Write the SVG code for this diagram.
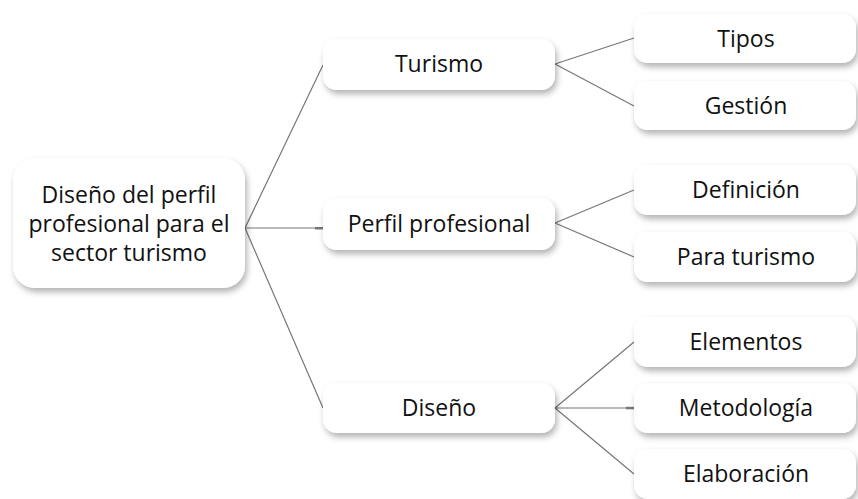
<svg xmlns="http://www.w3.org/2000/svg" width="858" height="499" viewBox="0 0 858 499">
<defs>
<filter id="sh" x="-20%" y="-40%" width="140%" height="180%">
<feDropShadow dx="2" dy="4" stdDeviation="3" flood-color="#000" flood-opacity="0.3"/>
</filter>
<style>
.box{fill:#fff;filter:url(#sh)}
.t{font-family:"Open Sans","Noto Sans",sans-serif;font-size:23px;fill:#111;text-anchor:middle}
.e{stroke:#777;stroke-width:1.2;fill:none}
</style>
</defs>
<rect width="858" height="499" fill="#fff"/>
<g id="connectors">
<path class="e" d="M245 228 L323 65 M245 228 L323 228 M245 228 L323 408"/>
<path class="e" d="M555 64 L634 38 M555 64 L634 106"/>
<path class="e" d="M555 223 L634 190 M555 223 L634 257"/>
<path class="e" d="M555 408 L634 342 M555 408 L634 408 M555 408 L634 474"/>
<rect x="315" y="227" width="8" height="2.5" fill="#777"/>
<rect x="626" y="406.8" width="8" height="2.5" fill="#777"/>
</g>
<g id="root"><rect class="box" x="13" y="158" width="232" height="130" rx="22"/>
<text class="t" x="129" y="203">Diseño del perfil</text>
<text class="t" x="129" y="232">profesional para el</text>
<text class="t" x="129" y="261">sector turismo</text></g>
<g id="turismo"><rect class="box" x="323" y="39" width="232" height="51" rx="14"/><text class="t" x="439" y="72">Turismo</text></g>
<g id="perfil"><rect class="box" x="323" y="198" width="232" height="52" rx="14"/><text class="t" x="439" y="232">Perfil profesional</text></g>
<g id="diseno"><rect class="box" x="323" y="383" width="232" height="50" rx="14"/><text class="t" x="439" y="416">Diseño</text></g>
<g id="tipos"><rect class="box" x="634" y="14" width="222" height="49" rx="14"/><text class="t" x="746" y="46.5">Tipos</text></g>
<g id="gestion"><rect class="box" x="634" y="81" width="222" height="49" rx="14"/><text class="t" x="746" y="113.5">Gestión</text></g>
<g id="definicion"><rect class="box" x="634" y="165" width="222" height="50" rx="14"/><text class="t" x="746" y="198">Definición</text></g>
<g id="paraturismo"><rect class="box" x="634" y="232" width="222" height="50" rx="14"/><text class="t" x="746" y="265">Para turismo</text></g>
<g id="elementos"><rect class="box" x="634" y="317" width="222" height="50" rx="14"/><text class="t" x="746" y="350">Elementos</text></g>
<g id="metodologia"><rect class="box" x="634" y="383" width="222" height="50" rx="14"/><text class="t" x="746" y="416">Metodología</text></g>
<g id="elaboracion"><rect class="box" x="634" y="449" width="222" height="50" rx="14"/><text class="t" x="746" y="482">Elaboración</text></g>
</svg>
